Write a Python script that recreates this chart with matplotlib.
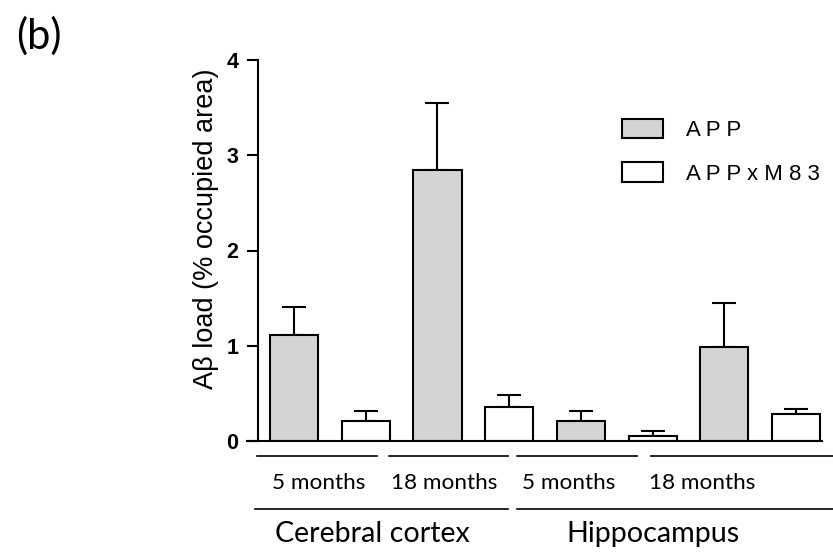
import matplotlib
matplotlib.use('Agg')
import matplotlib.pyplot as plt
from matplotlib.patches import Patch

# bar values (APP / APPxM83 alternating)
groups = ['Cerebral cortex', 'Hippocampus']
ages = ['5 months', '18 months', '5 months', '18 months']
app_mean = [1.11, 2.84, 0.21, 0.99]
app_err = [0.30, 0.71, 0.11, 0.46]
m83_mean = [0.21, 0.36, 0.05, 0.28]
m83_err = [0.11, 0.12, 0.06, 0.06]

W, H = 833, 552
fig = plt.figure(figsize=(W / 100, H / 100), dpi=100)
# axes placed by pixel: spine x=258, baseline y=441, top y=60
ax = fig.add_axes([258 / W, 1 - 441 / H, (822 - 258) / W, (441 - 60) / H])

x_app = [0, 2, 4, 6]
x_m83 = [1, 3, 5, 7]
bw = 0.67
ax.bar(x_app, app_mean, width=bw, color='#d4d4d4', edgecolor='black', linewidth=1.5, zorder=3)
ax.bar(x_m83, m83_mean, width=bw, color='white', edgecolor='black', linewidth=1.5, zorder=3)
ax.errorbar(x_app, app_mean, yerr=[[0] * 4, app_err], fmt='none', ecolor='black',
            elinewidth=1.5, capsize=8.3, capthick=1.5, zorder=2)
ax.errorbar(x_m83, m83_mean, yerr=[[0] * 4, m83_err], fmt='none', ecolor='black',
            elinewidth=1.5, capsize=8.3, capthick=1.5, zorder=2)

ax.set_xlim(-0.502, 7.36)
ax.set_ylim(0, 4)
ax.set_yticks([0, 1, 2, 3, 4])
ax.set_xticks([])
for s in ['top', 'right', 'bottom']:
    ax.spines[s].set_visible(False)
ax.spines['left'].set_linewidth(1.5)
ax.tick_params(axis='y', length=8, width=1.5, pad=6)
for label in ax.get_yticklabels():
    label.set_fontsize(15.5)
    label.set_fontweight('bold')
    label.set_family('Liberation Sans')
# baseline runs past the y spine like the tick marks
ax.plot([-0.65, 7.36], [0, 0], color='black', lw=1.5, clip_on=False, zorder=4)

fig.text(206 / W, 1 - 229 / H, 'A\u03b2 load (% occupied area)', rotation=90,
         ha='center', va='center', fontsize=19.5, family='Liberation Sans')

# category lines and labels under the axis
tr = ax.get_xaxis_transform()
row1 = [(-0.516, 1.16), (1.325, 2.985), (3.11, 4.78), (4.98, 7.52)]
row1_x = [0.35, 2.09, 3.835, 5.69]
row2 = [(-0.544, 2.985), (3.11, 7.52)]
row2_x = [1.09, 5.01]
for (a, b) in row1:
    ax.plot([a, b], [-0.039, -0.039], transform=tr, color='black', lw=1.2, clip_on=False)
for (a, b) in row2:
    ax.plot([a, b], [-0.178, -0.178], transform=tr, color='black', lw=1.2, clip_on=False)
for xx, t in zip(row1_x, ages):
    ax.text(xx, -0.110, t, transform=tr, ha='center', va='center', fontsize=16.2, family='Lato')
for xx, t in zip(row2_x, groups):
    ax.text(xx, -0.243, t, transform=tr, ha='center', va='center', fontsize=20.6, family='Lato')

handles = [Patch(facecolor='#d4d4d4', edgecolor='black', linewidth=1.5),
           Patch(facecolor='white', edgecolor='black', linewidth=1.5)]
fig.legend(handles, ['A P P', 'A P P x M 8 3'], loc='upper left',
           bbox_to_anchor=(622 / W, 1 - 119 / H), frameon=False,
           borderpad=0, borderaxespad=0,
           prop={'family': 'Liberation Sans', 'size': 16},
           handlelength=1.85, handleheight=0.95, handletextpad=1.05, labelspacing=0.95)

fig.text(16 / W, 1 - 36 / H, '(b)', ha='left', va='center', fontsize=30, family='Lato')

fig.savefig('out.png', dpi=100)
